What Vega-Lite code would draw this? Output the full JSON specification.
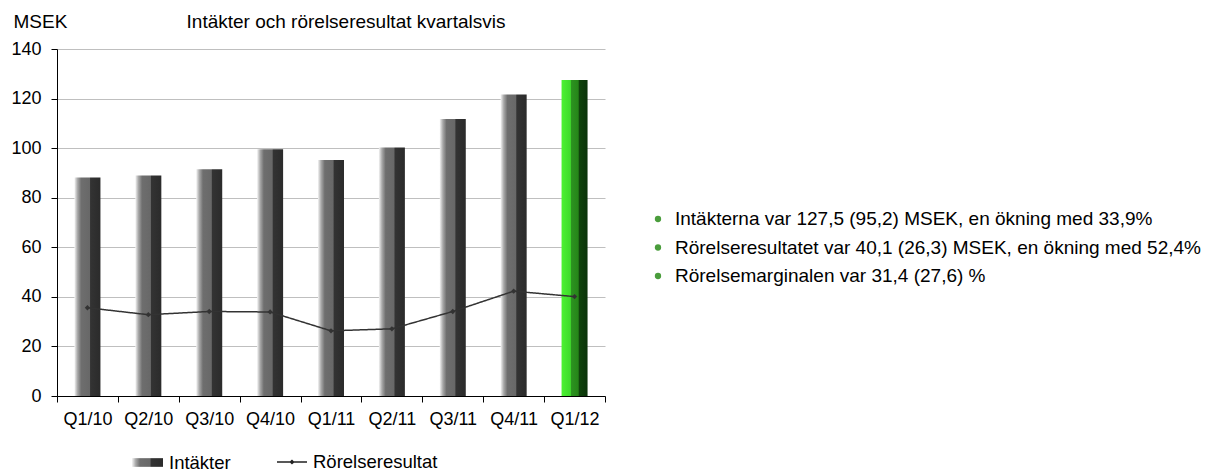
{
  "$schema": "https://vega.github.io/schema/vega-lite/v6.json",
  "padding": {"left": 10, "top": 12, "right": 0, "bottom": 0},
  "background": "white",
  "config": {
    "font": "Liberation Sans",
    "view": {"stroke": null},
    "text": {"font": "Liberation Sans"}
  },
  "datasets": {
    "q": [
      {"period": "Q1/10", "intakter": 88.2, "rorelseresultat": 35.6},
      {"period": "Q2/10", "intakter": 89.0, "rorelseresultat": 32.8},
      {"period": "Q3/10", "intakter": 91.5, "rorelseresultat": 34.1},
      {"period": "Q4/10", "intakter": 99.6, "rorelseresultat": 33.9},
      {"period": "Q1/11", "intakter": 95.2, "rorelseresultat": 26.3},
      {"period": "Q2/11", "intakter": 100.3, "rorelseresultat": 27.1},
      {"period": "Q3/11", "intakter": 111.8, "rorelseresultat": 34.1},
      {"period": "Q4/11", "intakter": 121.6, "rorelseresultat": 42.3},
      {"period": "Q1/12", "intakter": 127.5, "rorelseresultat": 40.1}
    ],
    "notes": [
      {"line": 1, "text": "Intäkterna var 127,5 (95,2)  MSEK, en ökning med 33,9%"},
      {"line": 2, "text": "Rörelseresultatet var 40,1 (26,3) MSEK, en ökning med 52,4%"},
      {"line": 3, "text": "Rörelsemarginalen var 31,4 (27,6) %"}
    ]
  },
  "spacing": 48,
  "resolve": {
    "scale": {"opacity": "independent", "strokeDash": "independent"},
    "legend": {"opacity": "independent", "strokeDash": "independent"}
  },
  "hconcat": [
    {
      "width": 548,
      "height": 347,
      "title": {
        "text": "Intäkter och rörelseresultat kvartalsvis",
        "font": "Liberation Sans",
        "fontSize": 19,
        "fontWeight": "normal",
        "color": "#000",
        "anchor": "middle",
        "frame": "group",
        "baseline": "alphabetic",
        "offset": 21,
        "dx": 15,
        "dy": 56
      },
      "data": {"name": "q"},
      "encoding": {
        "x": {
          "field": "period", "type": "nominal", "sort": null,
          "scale": {"paddingInner": 0, "paddingOuter": 0},
          "axis": {
            "title": null, "labelAngle": 0, "tickBand": "extent",
            "labelFont": "Liberation Sans", "labelFontSize": 18, "labelColor": "#000",
            "domainColor": "#000", "tickColor": "#000", "tickSize": 6, "labelPadding": 8,
            "grid": false
          }
        }
      },
      "layer": [
        {
          "transform": [{"filter": "datum.period !== 'Q1/12'"}],
          "mark": {
            "type": "bar", "size": 26,
            "color": {
              "gradient": "linear", "x1": 0, "x2": 1, "y1": 0, "y2": 0,
              "stops": [
                {"offset": 0, "color": "#f4f4f4"},
                {"offset": 0.12, "color": "#a8a8a8"},
                {"offset": 0.26, "color": "#6e6e6e"},
                {"offset": 0.58, "color": "#686868"},
                {"offset": 0.62, "color": "#333333"},
                {"offset": 1, "color": "#2b2b2b"}
              ]
            }
          },
          "encoding": {
            "y": {
              "field": "intakter", "type": "quantitative",
              "scale": {"domain": [0, 140], "nice": false},
              "axis": {
                "title": "MSEK", "titleAngle": 0, "titleAlign": "left", "titleBaseline": "alphabetic",
                "titleX": -44, "titleY": -22, "titleFont": "Liberation Sans", "titleFontSize": 19,
                "titleFontWeight": "normal", "titleColor": "#000",
                "values": [0, 20, 40, 60, 80, 100, 120, 140],
                "labelFont": "Liberation Sans", "labelFontSize": 18, "labelColor": "#000",
                "labelPadding": 10, "tickSize": 6, "tickColor": "#000", "domainColor": "#000",
                "grid": true, "gridColor": "#bfbfbf", "gridWidth": 1
              }
            },
            "opacity": {"datum": "Intäkter", "type": "nominal",
              "scale": {"domain": ["Intäkter"], "range": [1]},
              "legend": {
                "orient": "none", "legendX": 74, "legendY": 397, "direction": "horizontal",
                "title": null, "symbolSize": 961,
                "symbolType": "M-1,-0.28L1,-0.28L1,0.28L-1,0.28Z",
                "labelFont": "Liberation Sans",
                "labelFontSize": 18.5, "labelColor": "#000", "labelOffset": 5
              }
            }
          }
        },
        {
          "transform": [{"filter": "datum.period === 'Q1/12'"}],
          "mark": {
            "type": "bar", "size": 26,
            "color": {
              "gradient": "linear", "x1": 0, "x2": 1, "y1": 0, "y2": 0,
              "stops": [
                {"offset": 0, "color": "#4cf232"},
                {"offset": 0.34, "color": "#3fda2b"},
                {"offset": 0.38, "color": "#2c9320"},
                {"offset": 0.64, "color": "#268519"},
                {"offset": 0.68, "color": "#0f430b"},
                {"offset": 1, "color": "#0b330a"}
              ]
            }
          },
          "encoding": {
            "y": {"field": "intakter", "type": "quantitative"},
            "opacity": {"datum": "Intäkter", "type": "nominal"}
          }
        },
        {
          "mark": {"type": "line", "color": "#333333", "strokeWidth": 1.5},
          "encoding": {
            "y": {"field": "rorelseresultat", "type": "quantitative"},
            "strokeDash": {"datum": "Rörelseresultat", "type": "nominal",
              "scale": {"domain": ["Rörelseresultat"], "range": [[1, 0]]},
              "legend": {
                "orient": "none", "legendX": 219, "legendY": 397, "direction": "horizontal",
                "title": null, "symbolSize": 900,
                "symbolType": "M-1,0L1,0M0,-0.1L0.1,0L0,0.1L-0.1,0Z",
                "symbolStrokeColor": "#222222", "symbolStrokeWidth": 1.5, "symbolFillColor": "#222222",
                "labelFont": "Liberation Sans",
                "labelFontSize": 18.5, "labelColor": "#000", "labelOffset": 5
              }
            }
          }
        },
        {
          "mark": {"type": "point", "shape": "diamond", "size": 28, "filled": true, "color": "#333333", "opacity": 1},
          "encoding": {
            "y": {"field": "rorelseresultat", "type": "quantitative"}
          }
        }
      ]
    },
    {
      "width": 550,
      "height": 347,
      "data": {"name": "notes"},
      "encoding": {
        "x": {"datum": 0, "type": "quantitative", "scale": {"domain": [0, 1], "nice": false, "zero": false}, "axis": null},
        "y": {"field": "line", "type": "quantitative", "scale": {"domain": [-4.965, 7.21], "reverse": true, "nice": false, "zero": false}, "axis": null}
      },
      "layer": [
        {"mark": {"type": "circle", "size": 40, "color": "#4a9d3c", "opacity": 1}},
        {"mark": {"type": "text", "align": "left", "baseline": "middle", "dx": 17, "font": "Liberation Sans", "fontSize": 19, "color": "#000"},
         "encoding": {"text": {"field": "text"}}}
      ]
    }
  ]
}
